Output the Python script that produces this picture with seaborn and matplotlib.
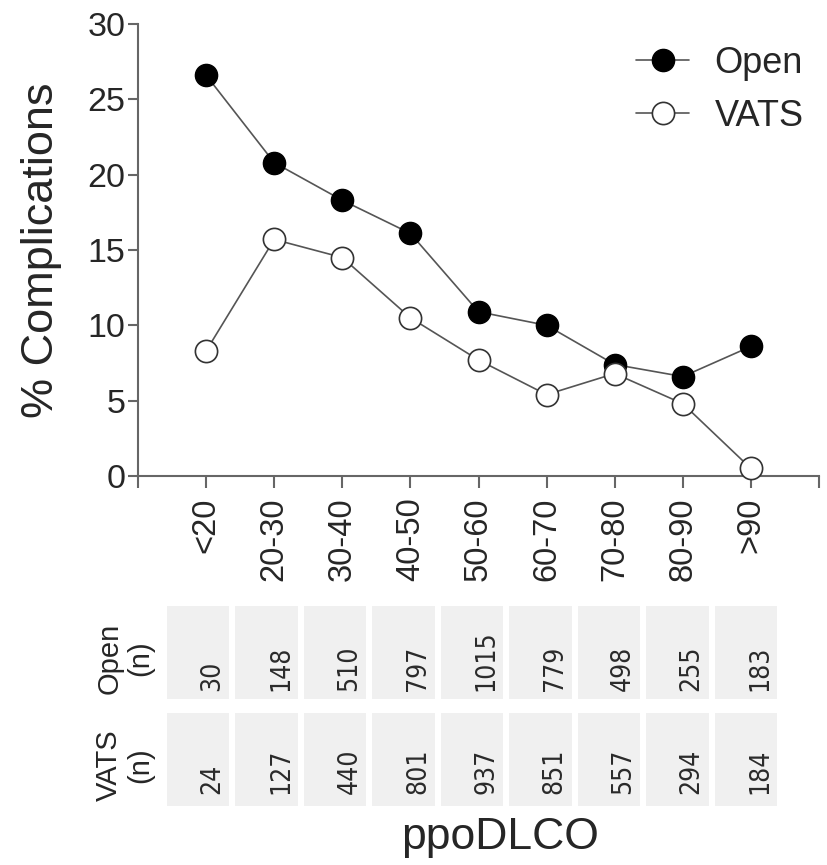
import numpy as np
import pandas as pd
import matplotlib
matplotlib.use("Agg")
import matplotlib.pyplot as plt
from matplotlib.colors import ListedColormap
from matplotlib.font_manager import FontProperties
import seaborn as sns

categories = ["<20", "20-30", "30-40", "40-50", "50-60", "60-70", "70-80", "80-90", ">90"]
open_pct = [26.6, 20.8, 18.3, 16.1, 10.9, 10.0, 7.4, 6.6, 8.6]
vats_pct = [8.3, 15.7, 14.5, 10.5, 7.7, 5.4, 6.8, 4.8, 0.5]
open_n = [30, 148, 510, 797, 1015, 779, 498, 255, 183]
vats_n = [24, 127, 440, 801, 937, 851, 557, 294, 184]
y_ticks = [0, 5, 10, 15, 20, 25, 30]

sns.set_theme(style="ticks")
plt.rcParams["font.family"] = ["Liberation Sans", "DejaVu Sans"]

W, H = 827, 865
fig = plt.figure(figsize=(W / 100, H / 100), dpi=100)

def fx(px):
    return px / W

def fy(py):
    return 1 - py / H

ax = fig.add_axes([fx(138), fy(476), fx(819 - 138), (476 - 24) / H])

pos = np.arange(len(categories))
df = pd.DataFrame({"pos": np.concatenate([pos, pos]),
                   "pct": open_pct + vats_pct,
                   "method": ["Open"] * len(pos) + ["VATS"] * len(pos)})

line_col = "#555555"
sns.lineplot(data=df[df.method == "Open"], x="pos", y="pct", ax=ax, color=line_col,
             lw=1.2, marker="o", markersize=16, markerfacecolor="black",
             markeredgecolor="black", markeredgewidth=1.0, label="Open", clip_on=False, zorder=3)
sns.lineplot(data=df[df.method == "VATS"], x="pos", y="pct", ax=ax, color=line_col,
             lw=1.2, marker="o", markersize=16, markerfacecolor="white",
             markeredgecolor="#333333", markeredgewidth=1.2, label="VATS", clip_on=False, zorder=3)

ax.set_xlim(-1, len(categories))
ax.set_ylim(0, 30)
ax.set_xticks(np.arange(-1, len(categories) + 1))
ax.set_xticklabels([""] + categories + [""], rotation=90, fontsize=23.5)
ax.set_yticks(y_ticks)
ax.set_yticklabels([str(t) for t in y_ticks], fontsize=24.5)
ax.set_xlabel("")
ax.set_ylabel("% Complications", fontsize=32.5, labelpad=18)
for s in ["top", "right"]:
    ax.spines[s].set_visible(False)
for s in ["left", "bottom"]:
    ax.spines[s].set_color("#666666")
    ax.spines[s].set_linewidth(1.5)
ax.tick_params(axis="x", direction="out", length=8.5, width=1.5, color="#666666", pad=7)
ax.tick_params(axis="y", direction="out", length=7, width=1.5, color="#666666", pad=2)

leg = ax.legend(loc="upper left", bbox_to_anchor=(fx(636), fy(46)), bbox_transform=fig.transFigure,
                frameon=False, fontsize=26, handlelength=1.47, handletextpad=0.7,
                labelspacing=0.49, borderpad=0, borderaxespad=0)

num_font = FontProperties(family="DejaVu Sans", stretch="condensed", size=19)

# table rows
rows = [("Open\n(n)", open_n, 603, 702, 0.89), ("VATS\n(n)", vats_n, 710, 809, 0.85)]
for label, vals, top, bot, ytxt in rows:
    axt = fig.add_axes([fx(164), fy(bot), fx(780 - 164), (bot - top) / H])
    sns.heatmap(np.array([vals]), cmap=ListedColormap(["#f0f0f0"]), cbar=False,
                linewidths=2.9, linecolor="white", ax=axt,
                xticklabels=False, yticklabels=False)
    for j, v in enumerate(vals):
        axt.text(j + 0.5 + 0.21, ytxt, str(v), rotation=90, ha="center", va="bottom",
                 fontproperties=num_font, color="#2a2a2a")
    axt.axis("off")
    fig.text(fx(125), fy((top + bot) / 2 + 6), label, rotation=90, ha="center", va="center",
             fontsize=21, multialignment="center", linespacing=1.15)

fig.text(fx(500), fy(837), "ppoDLCO", ha="center", va="center", fontsize=32)

fig.savefig("out.png", dpi=100)
